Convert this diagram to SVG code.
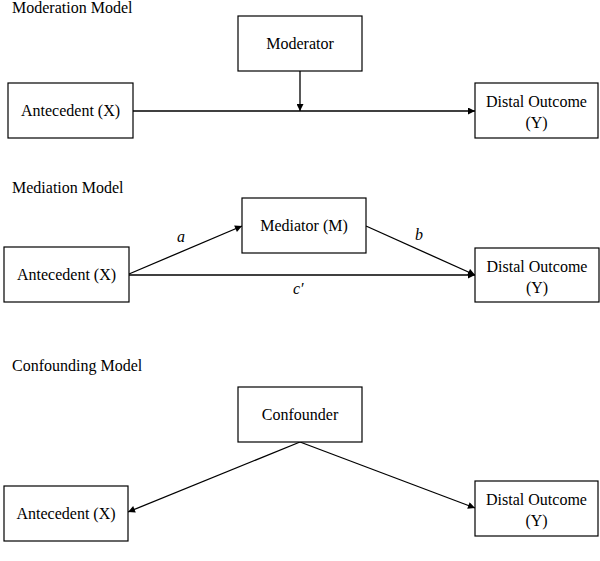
<svg xmlns="http://www.w3.org/2000/svg" width="600" height="561" viewBox="0 0 600 561">
<style>
text{font-family:'Liberation Serif','Times New Roman','DejaVu Serif',serif;font-size:16px;fill:#000}
.box{fill:#fff;stroke:#000;stroke-width:1.2}
.c{text-anchor:middle}
.lbl{font-style:italic}
.edge{stroke:#000;stroke-width:1.3;fill:none;marker-end:url(#ah)}
</style>
<defs>
<marker id="ah" viewBox="0 0 10 10" refX="10" refY="5" markerWidth="8" markerHeight="7" markerUnits="userSpaceOnUse" orient="auto">
<path d="M0,0 L10,5 L0,10 z" fill="#000"/>
</marker>
</defs>
<rect width="600" height="561" fill="#fff"/>
<g font-family="Liberation Serif, serif">
<text x="12" y="13">Moderation Model</text>
<text x="12" y="193">Mediation Model</text>
<text x="12" y="371">Confounding Model</text>
<g id="connectors">
<line class="edge" x1="133" y1="111" x2="475" y2="111"/>
<line class="edge" x1="300" y1="71" x2="300" y2="111"/>
<line class="edge" x1="129" y1="274" x2="242" y2="226"/>
<line class="edge" x1="366" y1="226" x2="475" y2="275"/>
<line class="edge" x1="129" y1="275" x2="475" y2="275"/>
<line class="edge" x1="300" y1="442" x2="128" y2="512"/>
<line class="edge" x1="300" y1="442" x2="475" y2="508"/>
<text class="lbl" x="177" y="242">a</text>
<text class="lbl" x="415" y="240">b</text>
<text class="lbl" x="293" y="294">c′</text>
</g>
<g id="moderator"><rect class="box" x="238" y="16" width="124" height="55"/><text class="c" x="300" y="49">Moderator</text></g>
<g id="antecedent1"><rect class="box" x="8" y="83" width="125" height="55"/><text class="c" x="70.5" y="116">Antecedent (X)</text></g>
<g id="outcome1"><rect class="box" x="475" y="83" width="123" height="55"/><text class="c" x="536.5" y="107">Distal Outcome</text><text class="c" x="536.5" y="128">(Y)</text></g>
<g id="mediator"><rect class="box" x="242" y="198" width="124" height="55"/><text class="c" x="304" y="231">Mediator (M)</text></g>
<g id="antecedent2"><rect class="box" x="4" y="247" width="125" height="55"/><text class="c" x="66.5" y="280">Antecedent (X)</text></g>
<g id="outcome2"><rect class="box" x="475" y="248" width="124" height="54"/><text class="c" x="537" y="272">Distal Outcome</text><text class="c" x="537" y="293">(Y)</text></g>
<g id="confounder"><rect class="box" x="238" y="387" width="124" height="55"/><text class="c" x="300" y="420">Confounder</text></g>
<g id="antecedent3"><rect class="box" x="4" y="486" width="124" height="55"/><text class="c" x="66" y="519">Antecedent (X)</text></g>
<g id="outcome3"><rect class="box" x="475" y="481" width="123" height="55"/><text class="c" x="536.5" y="505">Distal Outcome</text><text class="c" x="536.5" y="526">(Y)</text></g>
</g>
</svg>
